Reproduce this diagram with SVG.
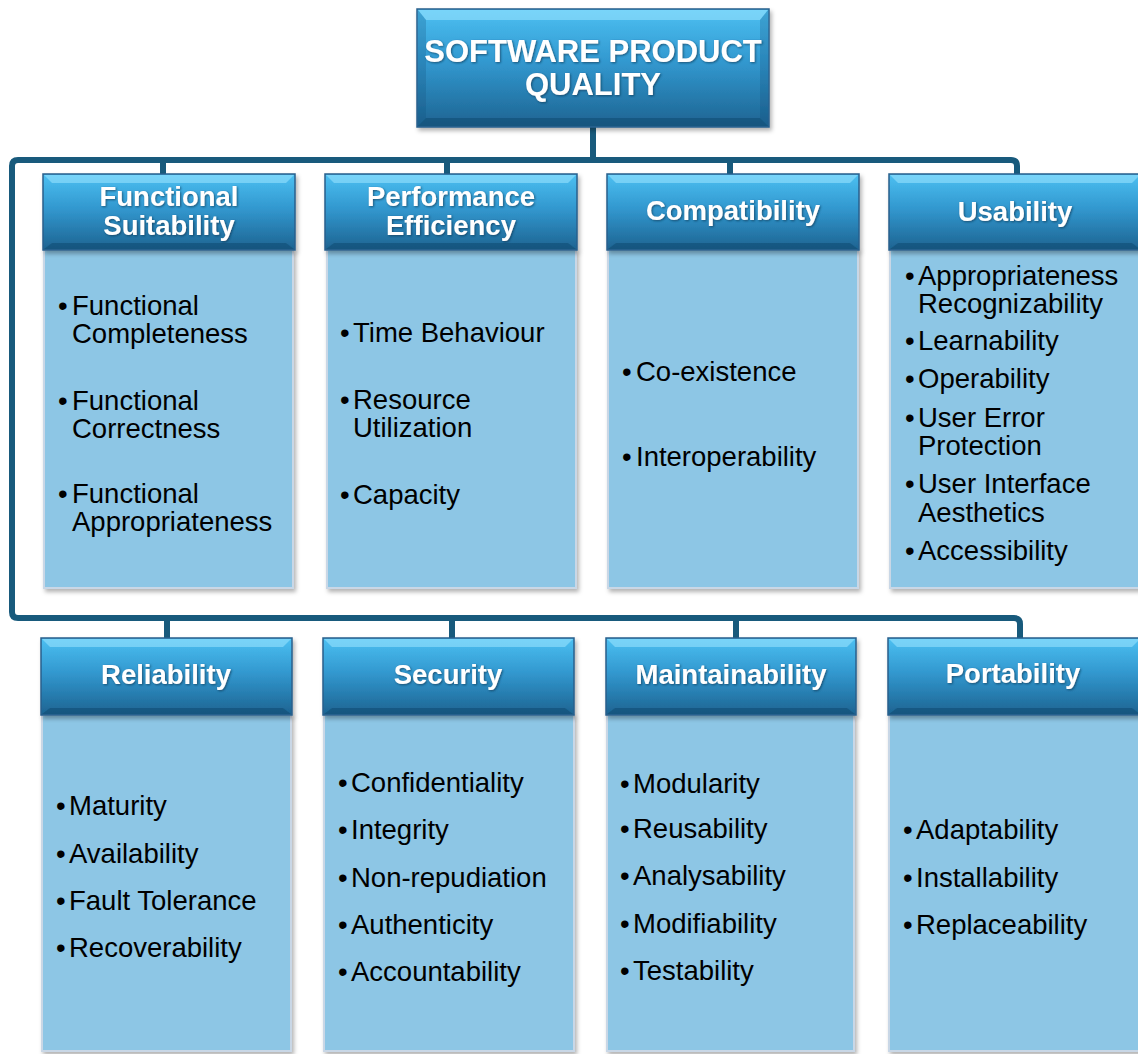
<svg xmlns="http://www.w3.org/2000/svg" width="1138" height="1054" viewBox="0 0 1138 1054">
<defs>
<linearGradient id="hg" x1="0" y1="0" x2="0" y2="1">
<stop offset="0" stop-color="#4cc0f2"/>
<stop offset="0.45" stop-color="#3298cf"/>
<stop offset="1" stop-color="#1d6391"/>
</linearGradient>
<filter id="sh" x="-5%" y="-5%" width="115%" height="115%">
<feDropShadow dx="2" dy="3" stdDeviation="2" flood-color="#000" flood-opacity="0.3"/>
</filter>
<filter id="ts" x="-5%" y="-20%" width="110%" height="140%">
<feDropShadow dx="1" dy="1" stdDeviation="0.8" flood-color="#0a3550" flood-opacity="0.7"/>
</filter>
<style>
.hdr{fill:url(#hg);stroke:#2a5f8c;stroke-width:1.5}
.bt{fill:#9fe6ff;opacity:0.55}
.bb{fill:#0f4468;opacity:0.45}
.bs{fill:#15507a;opacity:0.25}
.body{fill:#8dc6e5;stroke:#c9d7e6;stroke-width:2}
.ht{font-family:"Liberation Sans",Arial,sans-serif;font-weight:bold;font-size:27.5px;fill:#fff;text-anchor:middle}
.tt{font-family:"Liberation Sans",Arial,sans-serif;font-weight:bold;font-size:31px;fill:#fff;text-anchor:middle}
.it{font-family:"Liberation Sans",Arial,sans-serif;font-size:27.5px;fill:#000}
.conn{fill:none;stroke:#185a7c;stroke-width:6}
</style>
</defs>
<rect width="1138" height="1054" fill="#fff"/>

<g id="connectors" class="conn">
<path d="M593,127 V160"/>
<path d="M1017,176 V166 Q1017,160 1011,160 H18 Q12,160 12,166 V612 Q12,618 18,618 H1014 Q1020,618 1020,624 V640"/>
<path d="M163,160 V176"/>
<path d="M447,160 V176"/>
<path d="M730,160 V176"/>
<path d="M167,618 V640"/>
<path d="M452,618 V640"/>
<path d="M736,618 V640"/>
</g>

<g id="root" filter="url(#sh)">
<rect class="hdr" x="417" y="9" width="352" height="118"/>
<polygon class="bt" points="418,10 768,10 760,20 426,20"/>
<polygon class="bb" points="418,126 768,126 760,118 426,118"/>
<polygon class="bs" points="418,10 426,20 426,118 418,126"/>
<polygon class="bs" points="768,10 760,20 760,118 768,126"/>
<text class="tt" filter="url(#ts)"><tspan x="593" y="62">SOFTWARE PRODUCT</tspan><tspan x="593" y="95">QUALITY</tspan></text>
</g>

<!-- Top row -->
<g id="functional-suitability">
<rect class="body" x="44" y="250" width="249" height="338" filter="url(#sh)"/>
<g filter="url(#sh)">
<rect class="hdr" x="43" y="174" width="252" height="76"/>
<polygon class="bt" points="44,175 294,175 286,183 52,183"/>
<polygon class="bb" points="44,249 294,249 286,243 52,243"/>
</g>
<text class="ht" filter="url(#ts)"><tspan x="169" y="206">Functional</tspan><tspan x="169" y="235">Suitability</tspan></text>
<text class="it"><tspan x="58" y="315">•</tspan><tspan x="72" y="315">Functional</tspan><tspan x="72" y="343">Completeness</tspan></text>
<text class="it"><tspan x="58" y="410">•</tspan><tspan x="72" y="410">Functional</tspan><tspan x="72" y="438">Correctness</tspan></text>
<text class="it"><tspan x="58" y="503">•</tspan><tspan x="72" y="503">Functional</tspan><tspan x="72" y="531">Appropriateness</tspan></text>
</g>

<g id="performance-efficiency">
<rect class="body" x="327" y="250" width="249" height="338" filter="url(#sh)"/>
<g filter="url(#sh)">
<rect class="hdr" x="325" y="174" width="252" height="76"/>
<polygon class="bt" points="326,175 576,175 568,183 334,183"/>
<polygon class="bb" points="326,249 576,249 568,243 334,243"/>
</g>
<text class="ht" filter="url(#ts)"><tspan x="451" y="206">Performance</tspan><tspan x="451" y="235">Efficiency</tspan></text>
<text class="it"><tspan x="340" y="342">•</tspan><tspan x="353" y="342">Time Behaviour</tspan></text>
<text class="it"><tspan x="340" y="409">•</tspan><tspan x="353" y="409">Resource</tspan><tspan x="353" y="437">Utilization</tspan></text>
<text class="it"><tspan x="340" y="504">•</tspan><tspan x="353" y="504">Capacity</tspan></text>
</g>

<g id="compatibility">
<rect class="body" x="608" y="250" width="250" height="338" filter="url(#sh)"/>
<g filter="url(#sh)">
<rect class="hdr" x="607" y="174" width="252" height="76"/>
<polygon class="bt" points="608,175 858,175 850,183 616,183"/>
<polygon class="bb" points="608,249 858,249 850,243 616,243"/>
</g>
<text class="ht" filter="url(#ts)" x="733" y="220">Compatibility</text>
<text class="it"><tspan x="622" y="381">•</tspan><tspan x="636" y="381">Co-existence</tspan></text>
<text class="it"><tspan x="622" y="466">•</tspan><tspan x="636" y="466">Interoperability</tspan></text>
</g>

<g id="usability">
<rect class="body" x="890" y="250" width="250" height="338" filter="url(#sh)"/>
<g filter="url(#sh)">
<rect class="hdr" x="889" y="174" width="252" height="76"/>
<polygon class="bt" points="890,175 1140,175 1132,183 898,183"/>
<polygon class="bb" points="890,249 1140,249 1132,243 898,243"/>
</g>
<text class="ht" filter="url(#ts)" x="1015" y="221">Usability</text>
<text class="it"><tspan x="905" y="285">•</tspan><tspan x="918" y="285">Appropriateness</tspan><tspan x="918" y="313">Recognizability</tspan></text>
<text class="it"><tspan x="905" y="350">•</tspan><tspan x="918" y="350">Learnability</tspan></text>
<text class="it"><tspan x="905" y="388">•</tspan><tspan x="918" y="388">Operability</tspan></text>
<text class="it"><tspan x="905" y="427">•</tspan><tspan x="918" y="427">User Error</tspan><tspan x="918" y="455">Protection</tspan></text>
<text class="it"><tspan x="905" y="493">•</tspan><tspan x="918" y="493">User Interface</tspan><tspan x="918" y="522">Aesthetics</tspan></text>
<text class="it"><tspan x="905" y="560">•</tspan><tspan x="918" y="560">Accessibility</tspan></text>
</g>

<!-- Bottom row -->
<g id="reliability">
<rect class="body" x="42" y="715" width="249" height="336" filter="url(#sh)"/>
<g filter="url(#sh)">
<rect class="hdr" x="41" y="638" width="251" height="77"/>
<polygon class="bt" points="42,639 291,639 283,647 50,647"/>
<polygon class="bb" points="42,714 291,714 283,708 50,708"/>
</g>
<text class="ht" filter="url(#ts)" x="166" y="684">Reliability</text>
<text class="it"><tspan x="56" y="815">•</tspan><tspan x="69" y="815">Maturity</tspan></text>
<text class="it"><tspan x="56" y="863">•</tspan><tspan x="69" y="863">Availability</tspan></text>
<text class="it"><tspan x="56" y="910">•</tspan><tspan x="69" y="910">Fault Tolerance</tspan></text>
<text class="it"><tspan x="56" y="957">•</tspan><tspan x="69" y="957">Recoverability</tspan></text>
</g>

<g id="security">
<rect class="body" x="324" y="715" width="250" height="336" filter="url(#sh)"/>
<g filter="url(#sh)">
<rect class="hdr" x="323" y="638" width="251" height="77"/>
<polygon class="bt" points="324,639 573,639 565,647 332,647"/>
<polygon class="bb" points="324,714 573,714 565,708 332,708"/>
</g>
<text class="ht" filter="url(#ts)" x="448" y="684">Security</text>
<text class="it"><tspan x="338" y="792">•</tspan><tspan x="351" y="792">Confidentiality</tspan></text>
<text class="it"><tspan x="338" y="839">•</tspan><tspan x="351" y="839">Integrity</tspan></text>
<text class="it"><tspan x="338" y="887">•</tspan><tspan x="351" y="887">Non-repudiation</tspan></text>
<text class="it"><tspan x="338" y="934">•</tspan><tspan x="351" y="934">Authenticity</tspan></text>
<text class="it"><tspan x="338" y="981">•</tspan><tspan x="351" y="981">Accountability</tspan></text>
</g>

<g id="maintainability">
<rect class="body" x="607" y="715" width="247" height="336" filter="url(#sh)"/>
<g filter="url(#sh)">
<rect class="hdr" x="606" y="638" width="250" height="77"/>
<polygon class="bt" points="607,639 855,639 847,647 615,647"/>
<polygon class="bb" points="607,714 855,714 847,708 615,708"/>
</g>
<text class="ht" filter="url(#ts)" x="731" y="684">Maintainability</text>
<text class="it"><tspan x="620" y="793">•</tspan><tspan x="633" y="793">Modularity</tspan></text>
<text class="it"><tspan x="620" y="838">•</tspan><tspan x="633" y="838">Reusability</tspan></text>
<text class="it"><tspan x="620" y="885">•</tspan><tspan x="633" y="885">Analysability</tspan></text>
<text class="it"><tspan x="620" y="933">•</tspan><tspan x="633" y="933">Modifiability</tspan></text>
<text class="it"><tspan x="620" y="980">•</tspan><tspan x="633" y="980">Testability</tspan></text>
</g>

<g id="portability">
<rect class="body" x="889" y="715" width="251" height="336" filter="url(#sh)"/>
<g filter="url(#sh)">
<rect class="hdr" x="888" y="638" width="253" height="77"/>
<polygon class="bt" points="889,639 1140,639 1132,647 897,647"/>
<polygon class="bb" points="889,714 1140,714 1132,708 897,708"/>
</g>
<text class="ht" filter="url(#ts)" x="1013" y="683">Portability</text>
<text class="it"><tspan x="903" y="839">•</tspan><tspan x="916" y="839">Adaptability</tspan></text>
<text class="it"><tspan x="903" y="887">•</tspan><tspan x="916" y="887">Installability</tspan></text>
<text class="it"><tspan x="903" y="934">•</tspan><tspan x="916" y="934">Replaceability</tspan></text>
</g>
</svg>
